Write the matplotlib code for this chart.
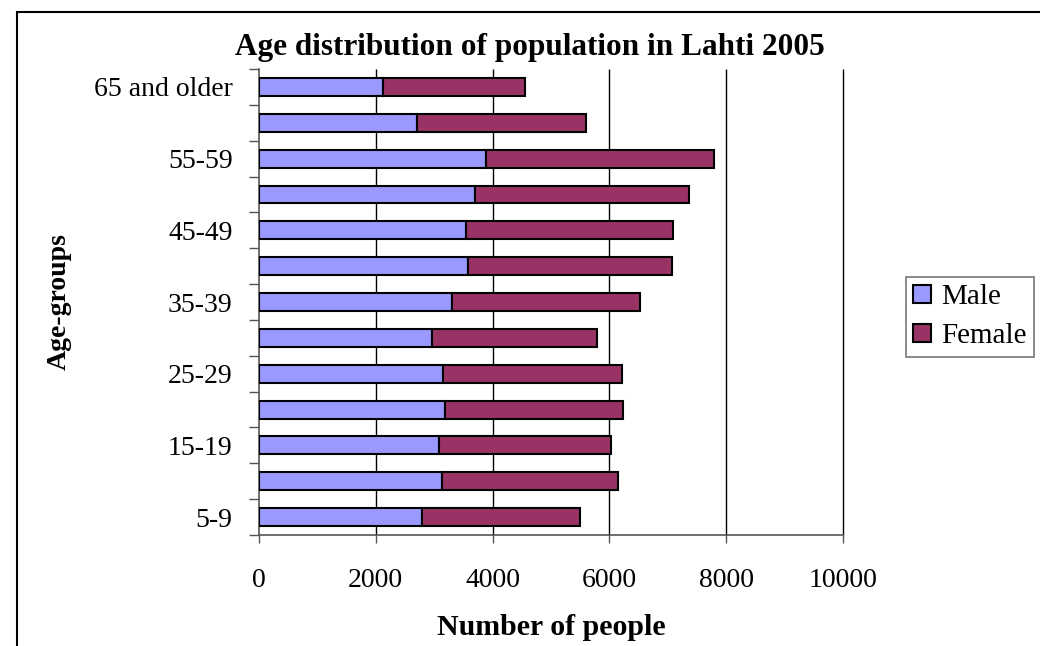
import matplotlib
matplotlib.use("Agg")
import matplotlib.pyplot as plt
from matplotlib.patches import Rectangle
import numpy as np

categories = ["5-9", "10-14", "15-19", "20-24", "25-29", "30-34", "35-39",
              "40-44", "45-49", "50-54", "55-59", "60-64", "65 and older"]
male = [2791, 3139, 3082, 3190, 3156, 2962, 3298, 3584, 3550, 3692, 3892, 2705, 2116]
total = [5490, 6153, 6021, 6238, 6216, 5793, 6524, 7066, 7083, 7368, 7796, 5592, 4555]
female = [t - m for t, m in zip(total, male)]
xticks = [0, 2000, 4000, 6000, 8000, 10000]

plt.rcParams['font.family'] = ['Liberation Serif', 'DejaVu Serif']

W, H = 1040, 646
fig = plt.figure(figsize=(W / 100, H / 100), dpi=100)
fig.patches.append(Rectangle((17 / W, -10 / H), (1060 - 17) / W, (646 - 12 + 10) / H,
                             transform=fig.transFigure, fill=False, edgecolor='black',
                             linewidth=1.5, zorder=0, clip_on=False))

left, right, top, bottom = 259, 843, 69, 535
ax = fig.add_axes([left / W, 1 - bottom / H, (right - left) / W, (bottom - top) / H])

y = np.arange(len(categories))
ax.barh(y, male, height=0.5, color='#9999FF', edgecolor='black', linewidth=1.5,
        label='Male', zorder=3)
ax.barh(y, female, left=male, height=0.5, color='#993366', edgecolor='black',
        linewidth=1.5, label='Female', zorder=3)

ax.set_xlim(0, 10000)
ax.set_ylim(-0.5, len(categories) - 0.5)
ax.set_xticks(xticks)
ax.set_xticklabels([str(v) for v in xticks], fontsize=20)
ax.tick_params(axis='x', length=6, width=1, pad=18, direction='out', color='#555555')

ax.set_yticks(y[::2])
ax.set_yticklabels(categories[::2], fontsize=20)
ax.tick_params(axis='y', length=0, pad=19)
ax.set_yticks(np.arange(len(categories) + 1) - 0.5, minor=True)
ax.tick_params(axis='y', which='minor', length=7, width=1, direction='out', color='#555555')

ax.vlines(xticks[1:], -0.5, len(categories) - 0.5, colors='black', linewidth=1,
          zorder=1, clip_on=False)
for s in ['top', 'right']:
    ax.spines[s].set_visible(False)
for s in ['left', 'bottom']:
    ax.spines[s].set_color('#555555')
    ax.spines[s].set_linewidth(1.2)

ax.set_xlabel('Number of people', fontsize=21.5, fontweight='bold')
ax.set_ylabel('Age-groups', fontsize=20, fontweight='bold')
ax.xaxis.set_label_coords((551 - left) / (right - left), -(614 - bottom) / (bottom - top))
ax.yaxis.set_label_coords((72 - left) / (right - left), 0.5)

fig.text(530 / W, 1 - 47 / H, 'Age distribution of population in Lahti 2005',
         ha='center', va='center', fontsize=22.5, fontweight='bold')

leg = ax.legend(loc='upper left', bbox_to_anchor=(906 / W, 1 - 277 / H),
                bbox_transform=fig.transFigure, fontsize=21, frameon=True,
                fancybox=False, edgecolor='#555555', handlelength=0.6,
                handleheight=0.6, handletextpad=0.35, borderpad=0.25,
                labelspacing=0.45, borderaxespad=0)
leg.get_frame().set_linewidth(1.2)

fig.savefig('out.png', dpi=100)
